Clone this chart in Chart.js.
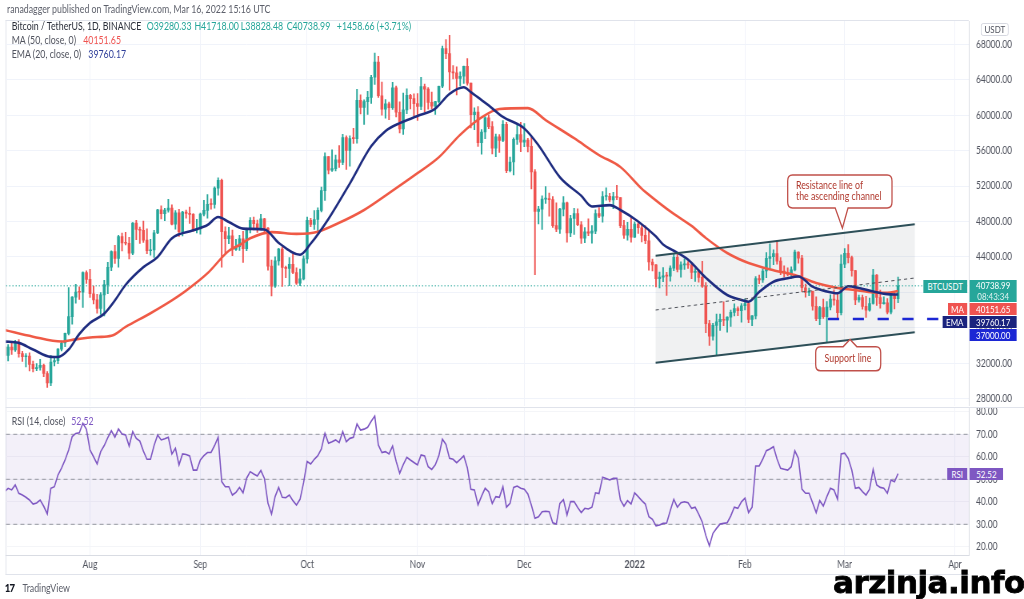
<!DOCTYPE html>
<html>
<head>
<meta charset="utf-8">
<script src="https://cdn.jsdelivr.net/npm/chart.js@4.4.1/dist/chart.umd.min.js"></script>
<style>
html,body{margin:0;padding:0;background:#fff;overflow:hidden;}
body{width:1024px;height:599px;position:relative;}
#stage{position:absolute;left:0;top:0;width:1280px;height:599px;transform:scaleX(0.8);transform-origin:0 0;font-family:Lato,"Open Sans",sans-serif;color:#2a2e39;}
.t{position:absolute;white-space:nowrap;font-size:11px;line-height:14px;}
canvas{position:absolute;left:0;}
#c1{top:21px;}
#c2{top:408px;}
.lbl{position:absolute;color:#fff;font-size:10px;line-height:12px;height:12px;text-align:center;white-space:nowrap;}
.hl{position:absolute;background:#e0e3eb;}
#wm{position:absolute;left:833px;top:567px;font-family:"DejaVu Sans",sans-serif;font-weight:bold;font-size:31px;line-height:31px;color:#000;-webkit-text-stroke:0.8px #000;transform:scaleX(1.0);transform-origin:0 0;white-space:nowrap;letter-spacing:-0.5px;}
</style>
</head>
<body>
<div id="stage">
  <div class="t" style="left:8.75px;top:2px;color:#5d606b;">ranadagger published on TradingView.com, Mar 16, 2022 15:16 UTC</div>
  <div class="hl" style="left:7px;top:20px;width:1204px;height:1px;"></div>
  <div class="hl" style="left:7px;top:20px;width:1px;height:555px;"></div>
  <div class="hl" style="left:7px;top:407px;width:1273px;height:1px;"></div>
  <div class="hl" style="left:7px;top:574px;width:1204px;height:1px;"></div>
  <canvas id="c1" width="1280" height="385"></canvas>
  <canvas id="c2" width="1280" height="167"></canvas>

  <div class="t" style="left:14.6px;top:19px;color:#2a2e39;">Bitcoin / TetherUS, 1D, BINANCE</div>
  <div class="t" style="left:183.3px;top:19px;color:#26a69a;">O39280.33</div>
  <div class="t" style="left:243px;top:19px;color:#26a69a;">H41718.00</div>
  <div class="t" style="left:301px;top:19px;color:#26a69a;">L38828.48</div>
  <div class="t" style="left:358.3px;top:19px;color:#26a69a;">C40738.99</div>
  <div class="t" style="left:421px;top:19px;color:#26a69a;">+1458.66 (+3.71%)</div>
  <div class="t" style="left:14.6px;top:33px;color:#50535e;">MA (50, close, 0)</div>
  <div class="t" style="left:104px;top:33px;color:#ef5350;">40151.65</div>
  <div class="t" style="left:14.6px;top:46.5px;color:#50535e;">EMA (20, close, 0)</div>
  <div class="t" style="left:110.4px;top:46.5px;color:#2f3f9a;">39760.17</div>

  <div class="t" style="left:1226px;top:22.5px;width:33px;height:11px;line-height:11px;font-size:10px;text-align:center;border:1px solid #d1d4dc;border-radius:3px;color:#50535e;">USDT</div>

  <div class="lbl" style="left:1154px;top:280px;width:55px;height:13px;line-height:13px;background:#26a69a;">BTCUSDT</div>
  <div class="lbl" style="left:1212px;top:280px;width:59px;height:22px;background:#26a69a;line-height:11px;">40738.99<br><span style="color:rgba(255,255,255,0.85)">08:43:34</span></div>
  <div class="lbl" style="left:1184.5px;top:303px;width:24.5px;background:#ef5350;">MA</div>
  <div class="lbl" style="left:1212px;top:303px;width:59px;background:#ef5350;">40151.65</div>
  <div class="lbl" style="left:1178px;top:316px;width:31px;background:#1a237e;">EMA</div>
  <div class="lbl" style="left:1212px;top:316px;width:59px;background:#1a237e;">39760.17</div>
  <div class="lbl" style="left:1212px;top:328.5px;width:59px;background:#1c27d4;">37000.00</div>
  <div class="lbl" style="left:1184px;top:468px;width:25px;background:#7e57c2;">RSI</div>
  <div class="lbl" style="left:1212px;top:468px;width:42px;background:#7e57c2;">52.52</div>
  <div class="t" style="left:14.6px;top:414px;color:#50535e;">RSI (14, close)</div>
  <div class="t" style="left:89px;top:414px;color:#7e57c2;">52.52</div>

  <svg width="1280" height="599" style="position:absolute;left:0;top:0;" xmlns="http://www.w3.org/2000/svg">
    <path d="M990.6,175 H1109 Q1115,175 1115,181 V202 Q1115,208 1109,208 H1060 L1053,228 L1044,208 H990.6 Q984.6,208 984.6,202 V181 Q984.6,175 990.6,175 Z" fill="#fff" stroke="#c0504a" stroke-width="1.6"/>
    <text x="995" y="189" font-family="Lato, sans-serif" font-size="11" fill="#b0392e">Resistance line of</text>
    <text x="995" y="200.5" font-family="Lato, sans-serif" font-size="11" fill="#b0392e">the ascending channel</text>
    <path d="M1025.6,346.7 H1054 L1062.5,339.5 L1071,346.7 H1094.9 Q1100.9,346.7 1100.9,352.7 V364.7 Q1100.9,370.7 1094.9,370.7 H1025.6 Q1019.6,370.7 1019.6,364.7 V352.7 Q1019.6,346.7 1025.6,346.7 Z" fill="#fff" stroke="#c0504a" stroke-width="1.6"/>
    <text x="1060" y="362.5" text-anchor="middle" font-family="Lato, sans-serif" font-size="11" fill="#b0392e">Support line</text>
  </svg>

  <div class="t" style="left:6px;top:581px;font-size:12px;font-weight:900;color:#131722;letter-spacing:-1px;">17</div>
  <div class="t" style="left:28px;top:581px;color:#5d606b;">TradingView</div>
</div>
<div id="wm">arzinja.info</div>

<script>
// ---------------- DATA ----------------
const monthDays   = [24, 55, 85, 116, 146, 177, 208, 236, 267];
const monthLabels = ['Aug','Sep','Oct','Nov','Dec','2022','Feb','Mar','Apr'];
const priceTicks  = [28000,32000,36000,40000,44000,48000,52000,56000,60000,64000,68000];
const rsiTicks    = [20,30,40,50,60,70,80];

// daily candles, day 0 = 8 Jul 2021 ... day 251 = 16 Mar 2022
const firstOpen = 33860;
const closes = [
32875,33815,33515,34260,33090,32730,32820,31880,31380,31520,
31780,30840,29790,32140,32290,33590,34290,35380,37270,39460,
40020,40010,42230,41460,39850,39150,38200,39720,40870,42840,
44610,43820,46290,45590,45550,44420,47830,47110,47010,45900,
44700,44800,46720,49330,48870,49280,49520,47700,48970,46850,
49070,48900,48800,47030,47170,48830,49250,49940,49920,51760,
52660,46860,46070,46370,44850,45170,46030,44940,47110,48140,
47750,47300,48290,47260,42960,40690,43560,44880,42820,42700,
43170,42240,41030,41520,43790,48140,47660,48230,49250,51490,
55340,53800,53970,54960,54660,57480,56010,57370,57350,61670,
60880,61530,62010,64280,66000,62190,60690,61290,60850,63080,
60330,58450,60590,62250,61860,61300,61000,63230,62940,61440,
61010,61530,63270,67530,66940,64880,64780,64140,64390,65500,
63610,60060,60360,56900,58100,59700,58700,56290,57570,57160,
58960,53730,54720,57270,57800,56950,57180,56480,53600,49150,
49400,50530,50560,50470,47540,47140,49390,50100,46700,48340,
48880,47630,46130,46830,46680,46910,48900,48590,50820,50840,
50430,50800,50710,47540,46460,47120,46220,47720,47290,46440,
45830,43430,43100,41560,41730,41860,41830,42740,43950,42590,
43100,43180,43110,42250,42380,41690,40700,36470,35060,36280,
36690,36960,36850,37210,37740,38180,37940,38490,38740,36950,
37340,41570,41410,42410,43840,44040,44380,43530,42390,42210,
42050,42540,44540,43870,40520,40000,40120,38430,37020,38280,
37270,38330,39230,39120,37700,43190,44420,43920,42450,39150,
39400,38420,37990,38740,41940,39420,38730,38810,37780,39670,
39280.33,40738.99];
const highs = [
33900,34100,34260,34590,34670,33340,33100,33190,32250,31950,
32440,31900,31060,32860,32580,33650,34500,35400,40550,39540,
40900,40640,42320,42420,42600,40700,39780,39970,41350,43390,
44700,45310,46450,46700,46790,46220,47890,48140,47370,48050,
47160,46000,47000,49380,49760,49500,50500,49880,49240,49360,
49150,49300,49630,48900,48250,48950,50400,51050,50560,51900,
52920,52800,47400,47340,47040,45990,46440,46880,47250,48450,
48500,48160,48820,48370,47320,43640,44000,44980,45150,42980,
43920,44350,42780,42620,44130,48500,48350,49230,49530,51890,
55750,55330,56100,55490,56560,57840,57680,57680,58530,62930,
62300,61730,62680,64490,67000,66640,63730,61750,61480,63700,
63290,61500,62500,62980,62360,62400,62440,64270,63520,63120,
62600,61560,63290,67790,68530,69000,65600,65460,64900,65550,
66400,63620,60820,60980,58370,59850,60050,59290,57880,57800,
59400,59180,55280,57440,58870,59180,59050,57380,57600,53860,
49700,50900,51940,51200,50800,50100,49490,50800,50200,48700,
49500,49440,47990,47310,48300,47540,49330,49580,51380,51810,
51170,51280,52090,50710,48140,47900,48550,47950,47990,47570,
47500,47070,43750,43150,42300,42790,42250,43000,44350,44460,
43450,43800,43480,43200,42690,42580,43500,41100,36840,36500,
37550,37550,38920,37240,38000,38720,38360,38740,39270,38860,
37390,41770,41950,42660,44500,45490,44800,45820,43920,43000,
42760,42880,44770,44580,44170,40950,40480,40150,39500,38430,
39250,38970,39730,40300,39880,44230,44950,45400,44100,42500,
39700,39700,39550,39360,42600,42000,40250,39490,39310,39950,
39890,41718];
const lows = [
32080,32260,33000,33330,32700,32200,31600,31130,31020,31160,
31210,30500,29280,29480,31700,31950,33400,33880,35200,36400,
38770,39200,38310,41000,39420,38690,37640,37500,37330,39850,
42450,43260,42850,44670,45350,43770,44260,45960,45520,45650,
44380,44200,43950,46640,48290,48100,49050,47600,47130,46320,
46360,48370,47770,46870,46700,46570,48630,48370,49400,49500,
50970,42840,44410,45500,44130,44740,44740,43370,44700,46720,
47050,46780,47050,46850,42500,39600,40550,43080,40680,41670,
40760,42100,40900,40750,41410,43290,47430,47100,46890,49070,
50380,53360,53660,53700,54100,54420,53880,54250,56820,56850,
60150,58960,60100,61320,63480,62000,60000,59670,59500,60650,
59800,58000,57820,60180,60720,59950,59400,60620,60380,60680,
60720,60080,61380,63110,66380,62820,64100,62280,63300,63580,
63400,58570,58370,56470,55600,57350,58490,55620,55320,55800,
57000,53500,53610,53260,56700,55880,56460,55840,51680,42000,
47730,47100,50040,48600,47320,46850,46660,48640,45670,46290,
46550,47540,45520,45600,46400,45560,46630,48420,47920,50400,
50200,49440,50450,47300,46100,45900,45680,46200,46650,45700,
45500,42500,42430,40610,40500,41200,39650,41270,42450,42310,
41720,42590,42700,41540,41250,41140,40550,35440,34010,34600,
32930,35700,36240,35510,36160,37330,37360,36630,38020,36590,
36250,37000,40980,41120,41650,42670,43120,43190,42000,41750,
41870,41570,42430,43310,40070,39450,39640,38000,36800,36350,
37050,34320,38020,38560,37000,37450,42800,43330,41830,38600,
38900,38100,37160,37870,38660,38540,38220,38660,37580,37580,
38120,38828.48];

// MA(50) and EMA(20)
const maDays = [0,8,16,20,26,30,34,41,47,51,57,63,66,69,75,82,88,94,101,108,116,122,128,134,139,147,152,160,167,173,179,180,188,193,197,203,209,216,222,228,234,239,244,248,251];
const maVals = [35750,35000,34450,34700,34960,35100,36100,37650,39100,40200,42150,44700,45350,46100,46800,46600,46850,47850,49300,51200,53450,55250,57800,59750,60700,60800,59450,57400,55500,54150,51700,51350,48850,47500,46140,44440,43310,42500,41950,41050,40500,40270,39980,39950,40151.65];
const emaDays = [0,4,8,13,15,18,21,24,28,31,34,39,43,47,53,57,60,63,67,73,77,83,86,91,97,103,107,111,116,121,125,129,131,134,136,140,146,150,156,162,165,170,173,178,183,185,188,192,197,203,207,209,212,216,220,223,227,231,234,237,240,244,248,251];
const emaVals = [34450,34300,33550,32720,32700,33550,35300,36550,37600,39100,40850,42850,44000,46100,47000,47600,48500,47950,47200,47100,45600,44250,45500,48300,52300,56500,58200,59100,59900,60750,62400,63150,62600,61700,61100,59800,58500,56600,53000,50900,49700,49850,49300,48000,46300,45400,44700,43700,41650,39700,39150,38950,40050,41200,41600,41800,40650,40100,39900,40700,40500,40100,39800,39760.17];

// RSI(14), one value per day
const rsiVals = [
44.5,46,45.3,47.5,43.8,43,42,40.8,39,39.5,
40.8,38,34.6,46,46.7,51.9,55,58.6,63,69,
70.4,70.7,74.9,72.2,63,60,56.8,62.3,65,68.5,
71.6,68.7,72.4,70.1,69.7,64.8,71.2,68.2,67,62.5,
58.9,58.9,65,69.7,67.5,68,68.7,61.3,63.8,56.4,
61.3,61,60.4,54.1,54.1,58.6,60.5,61.9,61.9,65,
68.7,49,46.7,46.7,43,44.2,46.4,44,50.5,53.4,
52.4,51.5,53.9,50.4,39.3,34.6,42.3,46.4,42,41.8,
43,40.5,38.6,41.1,48.5,57.9,56.8,58.9,60.5,63.5,
70.4,66,66.7,67.5,66.3,71.2,66.7,68.2,68.7,74.6,
71.9,72.3,73.1,75.8,78.1,65.3,61.9,62.3,61.3,64.8,
58,52.7,56.5,59.8,58.6,57.5,56.4,60.8,60.4,55.6,
54.4,56.4,60.5,67.8,65.5,59.3,58.9,57.4,58.9,60.4,
55.2,45.6,45.3,38.6,42.5,46,44.5,39.3,42.3,42,
46.7,37.6,39.3,46.4,47,46,45.6,43.5,38.5,32.7,
33.3,35.6,35.8,35.6,30.7,30.1,39.3,41,34.1,40.1,
40.1,37.5,35.2,37.1,36.8,37.6,44,43.7,50.9,50.4,
49.7,50.4,50.4,40.8,38.1,40.5,39,44,42.3,40.5,
39,33.4,32.2,29.3,29.7,30.4,30.6,36,41.1,37.6,
39.6,40,39.6,37.1,37.6,34.5,31,25,20.4,26,
28.2,30.1,30.4,30.7,33.7,37.6,37.1,40,41.6,35.2,
37.6,55.9,55.9,59,62.7,63.5,64.5,59,54.9,54.5,
54.1,55.6,62.7,59.3,45.6,43.8,43.8,39.5,35.2,40.5,
38.1,42.3,46,45.3,41.1,61.3,61.6,59.3,54.1,46,
46.4,44.5,43,45.6,54.4,47.5,46.4,46,43.8,49.7,
48.9,52.52];

// drawn channel (day, price) and support level
const channelDays   = [182.9, 255.7];
const channelTop    = [44140, 47684];
const channelMid    = [38011, 41623];
const channelBottom = [32063, 35494];
const supportLevel = 37000;
const supportStartDay = 231.3;

// ---------------- BUILD ----------------
const X_MIN = 0.40, X_MAX = 270.87;
const P_MIN = 27176, P_MAX = 70630;
const R_MIN = 16.36, R_MAX = 81.69;
const UP = '#26a69a', DOWN = '#ef5350';
Chart.defaults.font.family = 'Lato, "Open Sans", sans-serif';

const opens = closes.map((c, i) => i === 0 ? firstOpen : closes[i - 1]);
const candleCols = closes.map((c, i) => c >= opens[i] ? UP : DOWN);
const bodies = closes.map((c, i) => ({x: i, y: [opens[i], c]}));
const wicks  = closes.map((c, i) => ({x: i, y: [lows[i], highs[i]]}));
const maData  = maDays.map((d, i) => ({x: d, y: maVals[i]}));
const emaData = emaDays.map((d, i) => ({x: d, y: emaVals[i]}));
const rsiData = rsiVals.map((v, i) => ({x: i, y: v}));

function zeroPad(s){ s.paddingLeft = 0; s.paddingRight = 0; s.paddingTop = 0; s.paddingBottom = 0; }

const priceOverlay = {
  id: 'priceOverlay',
  beforeDatasetsDraw(chart) {
    const {ctx, chartArea: a, scales: {x, y}} = chart;
    ctx.save();
    ctx.beginPath(); ctx.rect(a.left, a.top, a.right - a.left, a.bottom - a.top); ctx.clip();
    ctx.beginPath();
    ctx.moveTo(x.getPixelForValue(channelDays[0]), y.getPixelForValue(channelTop[0]));
    ctx.lineTo(x.getPixelForValue(channelDays[1]), y.getPixelForValue(channelTop[1]));
    ctx.lineTo(x.getPixelForValue(channelDays[1]), y.getPixelForValue(channelBottom[1]));
    ctx.lineTo(x.getPixelForValue(channelDays[0]), y.getPixelForValue(channelBottom[0]));
    ctx.closePath();
    ctx.fillStyle = 'rgba(120,123,134,0.11)';
    ctx.fill();
    const py = y.getPixelForValue(closes[closes.length - 1]);
    ctx.beginPath(); ctx.setLineDash([1.5, 2.5]); ctx.lineWidth = 1; ctx.strokeStyle = UP;
    ctx.moveTo(a.left, py); ctx.lineTo(a.right, py); ctx.stroke();
    ctx.restore();
  },
  afterDatasetsDraw(chart) {
    const {ctx, chartArea: a, scales: {x, y}} = chart;
    ctx.save();
    ctx.beginPath(); ctx.rect(a.left, a.top, a.right - a.left, a.bottom - a.top); ctx.clip();
    const seg = (vals) => {
      ctx.beginPath();
      ctx.moveTo(x.getPixelForValue(channelDays[0]), y.getPixelForValue(vals[0]));
      ctx.lineTo(x.getPixelForValue(channelDays[1]), y.getPixelForValue(vals[1]));
      ctx.stroke();
    };
    ctx.strokeStyle = '#2d4f58'; ctx.lineWidth = 2; ctx.setLineDash([]);
    seg(channelTop); seg(channelBottom);
    ctx.strokeStyle = '#4a4d55'; ctx.lineWidth = 1; ctx.setLineDash([4, 4]);
    seg(channelMid);
    const sy = y.getPixelForValue(supportLevel);
    ctx.strokeStyle = '#1c27d4'; ctx.lineWidth = 2.6; ctx.setLineDash([14, 17]);
    ctx.beginPath(); ctx.moveTo(x.getPixelForValue(supportStartDay), sy); ctx.lineTo(a.right, sy); ctx.stroke();
    ctx.restore();
  }
};

new Chart(document.getElementById('c1'), {
  type: 'bar',
  data: {
    datasets: [
      {type: 'line', data: emaData, borderColor: '#1f2d80', borderWidth: 2.6, pointRadius: 0, cubicInterpolationMode: 'monotone', order: 1},
      {type: 'line', data: maData, borderColor: '#ef5a46', borderWidth: 2.6, pointRadius: 0, cubicInterpolationMode: 'monotone', order: 2},
      {data: bodies, backgroundColor: candleCols, barThickness: 2.9, minBarLength: 1, grouped: false, order: 3},
      {data: wicks, backgroundColor: candleCols, barThickness: 1.25, grouped: false, order: 4}
    ]
  },
  options: {
    responsive: false, animation: false, devicePixelRatio: 1, events: [],
    layout: {padding: {left: 7.5, right: 0, top: 0, bottom: 0}},
    plugins: {legend: {display: false}, tooltip: {enabled: false}},
    scales: {
      x: {type: 'linear', min: X_MIN, max: X_MAX, offset: false,
          grid: {color: '#f0f3fa', drawTicks: false, offset: false}, border: {display: false},
          ticks: {display: false},
          afterBuildTicks: s => { s.ticks = monthDays.map(v => ({value: v})); },
          afterFit: s => { s.height = 0; zeroPad(s); }},
      y: {position: 'right', min: P_MIN, max: P_MAX,
          grid: {color: '#f0f3fa', drawTicks: false}, border: {color: '#d9dce3'},
          ticks: {padding: 9, color: '#50535e', font: {size: 10.5}, callback: v => Number(v).toFixed(2)},
          afterBuildTicks: s => { s.ticks = priceTicks.map(v => ({value: v})); },
          afterFit: s => { s.width = 69; zeroPad(s); }}
    }
  },
  plugins: [priceOverlay]
});

const rsiBand = {
  id: 'rsiBand',
  beforeDatasetsDraw(chart) {
    const {ctx, chartArea: a, scales: {y}} = chart;
    ctx.save();
    const y70 = y.getPixelForValue(70), y30 = y.getPixelForValue(30), y50 = y.getPixelForValue(50);
    ctx.fillStyle = 'rgba(126,87,194,0.09)';
    ctx.fillRect(a.left, y70, a.right - a.left, y30 - y70);
    ctx.strokeStyle = '#9598a1'; ctx.lineWidth = 1; ctx.setLineDash([5, 4]);
    [y70, y50, y30].forEach(py => { ctx.beginPath(); ctx.moveTo(a.left, py); ctx.lineTo(a.right, py); ctx.stroke(); });
    ctx.restore();
  }
};

new Chart(document.getElementById('c2'), {
  type: 'line',
  data: {datasets: [{data: rsiData, borderColor: '#7e57c2', borderWidth: 1.6, pointRadius: 0, tension: 0}]},
  options: {
    responsive: false, animation: false, devicePixelRatio: 1, events: [],
    layout: {padding: {left: 7.5, right: 0, top: 0, bottom: 0}},
    plugins: {legend: {display: false}, tooltip: {enabled: false}},
    scales: {
      x: {type: 'linear', min: X_MIN, max: X_MAX, offset: false,
          grid: {color: '#f0f3fa', drawTicks: false, offset: false}, border: {color: '#d9dce3'},
          ticks: {padding: 3, color: '#50535e', autoSkip: false, maxRotation: 0,
                  font: c => (c.tick && c.tick.value === 177) ? {size: 11, weight: 'bold'} : {size: 10.5},
                  callback: v => { const k = monthDays.indexOf(v); return k >= 0 ? monthLabels[k] : ''; }},
          afterBuildTicks: s => { s.ticks = monthDays.map(v => ({value: v})); },
          afterFit: s => { s.height = 20; zeroPad(s); }},
      y: {position: 'right', min: R_MIN, max: R_MAX,
          grid: {color: '#f4f5f8', drawTicks: false}, border: {color: '#d9dce3'},
          ticks: {padding: 9, color: '#50535e', font: {size: 10.5}, callback: v => Number(v).toFixed(2)},
          afterBuildTicks: s => { s.ticks = rsiTicks.map(v => ({value: v})); },
          afterFit: s => { s.width = 69; zeroPad(s); }}
    }
  },
  plugins: [rsiBand]
});
</script>
</body>
</html>
